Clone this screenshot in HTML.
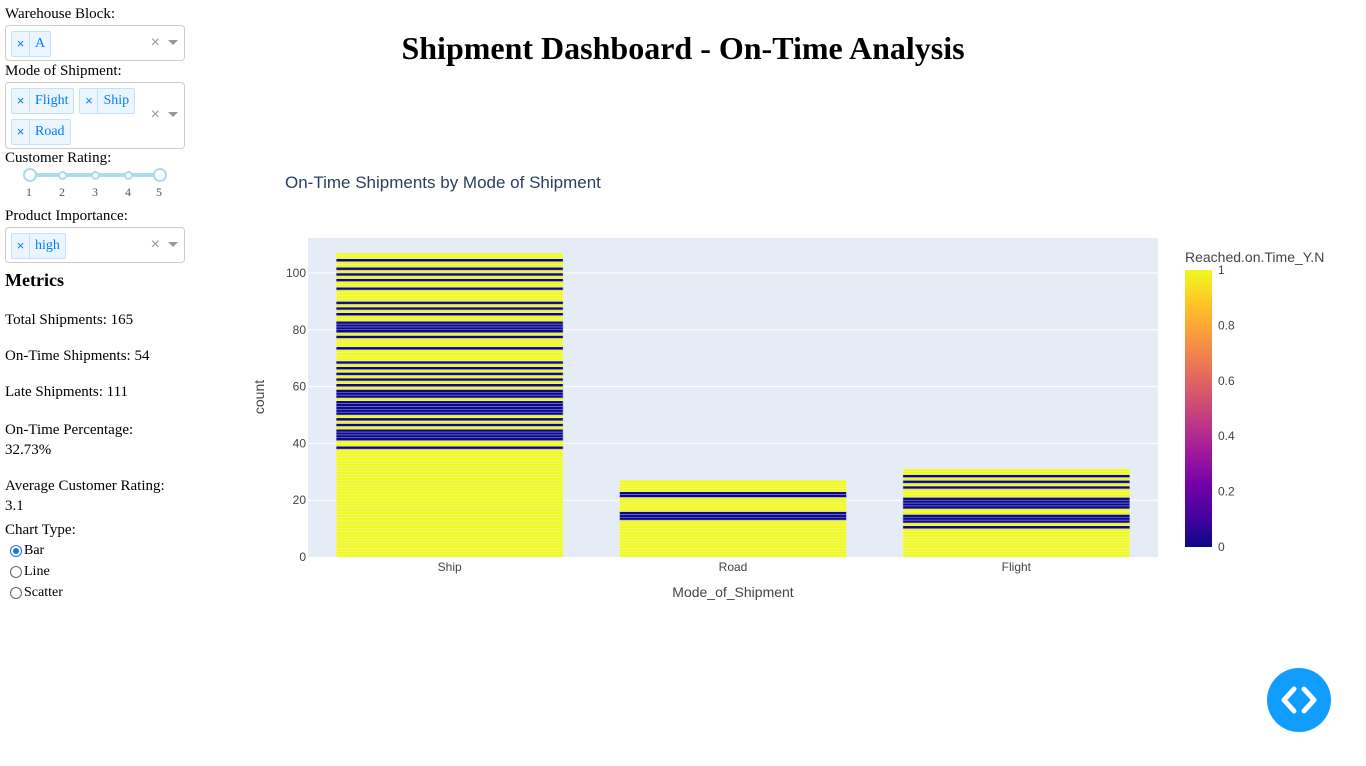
<!DOCTYPE html>
<html><head><meta charset="utf-8">
<style>
body{margin:0;width:1366px;height:766px;background:#fff;font-family:"Liberation Serif",serif;position:relative;overflow:hidden;color:#000}
.side{position:absolute;left:5px;top:0;width:180px;font-size:15px}
.lbl{height:17px;line-height:17px;margin-top:6px}
.dd{position:relative;border:1px solid #ccc;border-radius:4px;box-sizing:border-box;width:180px;padding:5px 0 0 5px;margin-top:2px}
.tag{display:inline-flex;border:1px solid #c2e0ff;background:#ebf5ff;color:#007eff;border-radius:2px;height:24px;line-height:24px;font-size:14px;margin:0 5px 5px 0;vertical-align:top}
.tag .x{width:17px;text-align:center;border-right:1px solid #c2e0ff;font-size:13px;font-family:"Liberation Sans",sans-serif}
.tag .v{padding:0 5px}
.ctl{position:absolute;right:6px;color:#999;font-family:"Liberation Sans",sans-serif;font-size:16px}
.ctl b{display:inline-block;width:0;height:0;border-left:5px solid transparent;border-right:5px solid transparent;border-top:5px solid #999;margin-left:8px;vertical-align:middle}
.met{position:absolute;left:5px;font-size:15px}
h1{position:absolute;left:0;width:1366px;top:31px;margin:0;text-align:center;font-size:32px;font-weight:bold;line-height:34px}
.radio{display:flex;align-items:center;height:21px;font-size:14px}
.radio span{width:12px;height:12px;border:1px solid #666;border-radius:50%;margin:0 2px 0 10px;box-sizing:border-box;position:relative}
.radio span.on{border-color:#1a73e8}
.radio span.on:after{content:"";position:absolute;left:2px;top:2px;width:6px;height:6px;border-radius:50%;background:#1a73e8}
</style></head><body>
<div class="side">
 <div class="lbl" style="margin-top:6px">Warehouse Block:</div>
 <div class="dd" style="height:36px">
  <span class="tag"><span class="x">×</span><span class="v">A</span></span>
  <span class="ctl" style="top:8px">×<b></b></span></div>
 <div class="lbl" style="margin-top:2px">Mode of Shipment:</div>
 <div class="dd" style="height:67px">
  <span class="tag"><span class="x">×</span><span class="v">Flight</span></span><span class="tag"><span class="x">×</span><span class="v">Ship</span></span><br>
  <span class="tag"><span class="x">×</span><span class="v">Road</span></span>
  <span class="ctl" style="top:23px">×<b></b></span></div>
 <div class="lbl" style="margin-top:1px">Customer Rating:</div>
 <div style="position:relative;height:40px">
  <div style="position:absolute;left:25px;top:6px;width:130px;height:4px;background:#a8dcef"></div>
  <div style="position:absolute;left:18px;top:1px;width:10px;height:10px;border:2px solid #a8dcef;border-radius:50%;background:#fff"></div>
  <div style="position:absolute;left:53px;top:4px;width:5px;height:5px;border:2px solid #a8dcef;border-radius:50%;background:#fff"></div>
  <div style="position:absolute;left:86px;top:4px;width:5px;height:5px;border:2px solid #a8dcef;border-radius:50%;background:#fff"></div>
  <div style="position:absolute;left:119px;top:4px;width:5px;height:5px;border:2px solid #a8dcef;border-radius:50%;background:#fff"></div>
  <div style="position:absolute;left:148px;top:1px;width:10px;height:10px;border:2px solid #a8dcef;border-radius:50%;background:#fff"></div>
  <div style="position:absolute;top:18px;left:0;font-size:12px;color:#555">
   <span style="position:absolute;left:21px">1</span><span style="position:absolute;left:54px">2</span><span style="position:absolute;left:87px">3</span><span style="position:absolute;left:120px">4</span><span style="position:absolute;left:151px">5</span></div>
 </div>
 <div class="lbl" style="margin-top:1px">Product Importance:</div>
 <div class="dd" style="height:36px">
  <span class="tag"><span class="x">×</span><span class="v">high</span></span>
  <span class="ctl" style="top:8px">×<b></b></span></div>
</div>
<div class="met" style="top:270px;font-size:18px;font-weight:bold">Metrics</div>
<div class="met" style="top:312px">Total Shipments: 165</div>
<div class="met" style="top:348px">On-Time Shipments: 54</div>
<div class="met" style="top:384px">Late Shipments: 111</div>
<div class="met" style="top:420px;line-height:20px">On-Time Percentage:<br>32.73%</div>
<div class="met" style="top:476px;line-height:20px">Average Customer Rating:<br>3.1</div>
<div class="met" style="top:522px">Chart Type:</div>
<div class="met" style="top:540px;left:0">
 <div class="radio"><span class="on"></span>Bar</div>
 <div class="radio"><span></span>Line</div>
 <div class="radio"><span></span>Scatter</div>
</div>
<h1>Shipment Dashboard - On-Time Analysis</h1>
<svg id="chart" width="1366" height="766" style="position:absolute;left:0;top:0" font-family="'Liberation Sans',sans-serif">
 <defs><linearGradient id="plasma" x1="0" y1="1" x2="0" y2="0">
  <stop offset="0" stop-color="#0d0887"/><stop offset="0.111" stop-color="#46039f"/><stop offset="0.222" stop-color="#7201a8"/><stop offset="0.333" stop-color="#9c179e"/><stop offset="0.444" stop-color="#bd3786"/><stop offset="0.556" stop-color="#d8576b"/><stop offset="0.667" stop-color="#ed7953"/><stop offset="0.778" stop-color="#fb9f3a"/><stop offset="0.889" stop-color="#fdca26"/><stop offset="1" stop-color="#f0f921"/></linearGradient></defs>
 <g id="g"></g>
</svg>
<div style="position:absolute;left:1267px;top:668px;width:64px;height:64px;border-radius:50%;background:#119dff">
 <svg width="64" height="64"><path d="M27 21 L17 32 L27 43 M37 21 L47 32 L37 43" stroke="#fff" stroke-width="5" fill="none" stroke-linecap="round" stroke-linejoin="round"/></svg></div>
<script>
const categories=["Ship","Road","Flight"];
const counts=[107,27,31];
const zeroShip=[104,101,99,97,94,89,87,85,82,81,80,79,77,73,68,66,64,62,60,58,57,56,54,53,52,51,50,48,46,44,43,42,41,38];
const zeroRoad=[22,21,15,14,13];
const zeroFlight=[28,26,24,20,19,18,17,14,13,12,10];
const yTicks=[0,20,40,60,80,100];
const cbTicks=[0,0.2,0.4,0.6,0.8,1];
const zeros=[zeroShip,zeroRoad,zeroFlight];
const NS="http://www.w3.org/2000/svg";
const g=document.getElementById('g');
const L=308,R=1158,T=238,B=557,yMax=112.3;
const y=v=>B-v/yMax*(B-T);
const band=(R-L)/categories.length;
const xc=i=>L+band*(i+0.5);
function mk(t,a,txt){const e=document.createElementNS(NS,t);for(const k in a)e.setAttribute(k,a[k]);if(txt!=null)e.textContent=txt;g.appendChild(e);return e;}
let bg=mk('rect',{x:L,y:T,width:R-L,height:B-T,fill:'#e5ecf6'});


yTicks.forEach(t=>{
 if(t>0){let l=mk('line',{x1:L,x2:R,y1:y(t),y2:y(t),stroke:'#fff','stroke-width':1});
 
 }
 let tx=mk('text',{x:L-2,y:y(t)+4,'text-anchor':'end','font-size':12,fill:'#444'},t);
 
 
});
const bw=band*0.8;
categories.forEach((c,i)=>{
 for(let k=0;k<counts[i];k++){
  const z=zeros[i].includes(k);
  let r=mk('rect',{x:xc(i)-bw/2,y:y(k+1),width:bw,height:y(k)-y(k+1),fill:z?'#0d0887':'#f0f921',stroke:z?'#9aa0e6':'#f4f6a0','stroke-width':0.5});
  
  
 }
 let tx=mk('text',{x:xc(i),y:B+14,'text-anchor':'middle','font-size':12,fill:'#444'},c);
 
 
});
let t1=mk('text',{x:285,y:188,'font-size':17,fill:'#2a3f5f'},'On-Time Shipments by Mode of Shipment');


let t2=mk('text',{x:(L+R)/2,y:597,'text-anchor':'middle','font-size':14,fill:'#444'},'Mode_of_Shipment');


let t3=mk('text',{x:264,y:397,'text-anchor':'middle','font-size':14,fill:'#444',transform:'rotate(-90 264 397)'},'count');


const cT=270,cB=547;
let cb=mk('rect',{x:1185,y:cT,width:27,height:cB-cT,fill:'url(#plasma)'});


let ct=mk('text',{x:1185,y:262,'font-size':14,fill:'#444'},'Reached.on.Time_Y.N');


cbTicks.forEach(t=>{
 let tx=mk('text',{x:1218,y:cB-t*(cB-cT)+4,'font-size':12,fill:'#444'},t);
 
 
});
</script>
</body></html>
